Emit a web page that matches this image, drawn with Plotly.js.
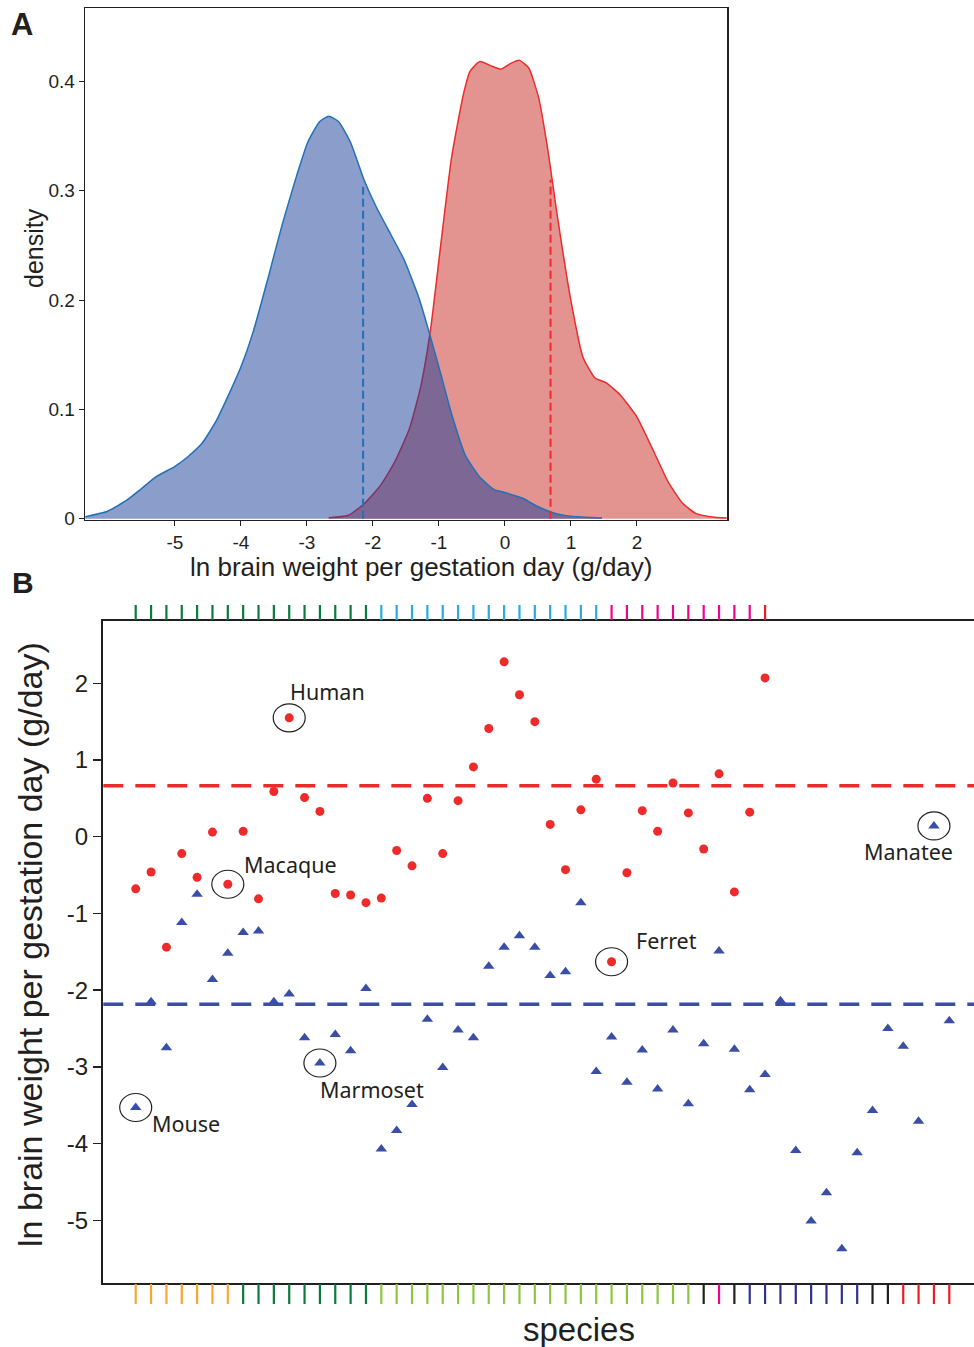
<!DOCTYPE html>
<html>
<head>
<meta charset="utf-8">
<script src="https://cdn.plot.ly/plotly-3.0.1.min.js"></script>
<style>html,body{margin:0;padding:0;background:#fff;}#chart{width:974px;height:1347px;}</style>
</head>
<body>
<div id="chart"></div>
<script>
// ---------- Panel A: density curves ----------
const blueDensX = [-6.36,-6.02,-5.73,-5.52,-5.30,-5.0,-4.80,-4.59,-4.38,-4.16,-4.0,-3.81,-3.59,-3.38,-3.16,-2.99,-2.81,-2.67,-2.52,-2.34,-2.13,-1.95,-1.74,-1.53,-1.31,-1.17,-0.98,-0.81,-0.60,-0.38,-0.17,0,0.26,0.47,0.76,1.0,1.47];
const blueDensY = [0.002,0.007,0.017,0.027,0.038,0.048,0.057,0.069,0.089,0.117,0.139,0.172,0.220,0.268,0.313,0.344,0.363,0.368,0.363,0.344,0.309,0.285,0.261,0.237,0.203,0.175,0.134,0.096,0.058,0.038,0.027,0.024,0.019,0.012,0.005,0.0024,0.0007];
const redDensX = [-2.67,-2.38,-2.13,-1.88,-1.67,-1.45,-1.28,-1.13,-0.98,-0.81,-0.63,-0.53,-0.38,-0.21,-0.06,0.08,0.22,0.36,0.51,0.65,0.79,1.0,1.18,1.36,1.54,1.75,2.0,2.25,2.47,2.68,2.89,3.18,3.36];
const redDensY = [0.001,0.003,0.014,0.031,0.052,0.082,0.120,0.172,0.247,0.330,0.388,0.409,0.418,0.414,0.411,0.416,0.419,0.412,0.385,0.337,0.278,0.199,0.148,0.129,0.124,0.113,0.093,0.062,0.034,0.015,0.005,0.0014,0.0007];
const blueMean = -2.15, blueMeanDensity = 0.305;
const redMean = 0.69, redMeanDensity = 0.31;
const densTicks = [0, 0.1, 0.2, 0.3, 0.4];
const densTickText = ['0', '0.1', '0.2', '0.3', '0.4'];
const lnTicks = [-5, -4, -3, -2, -1, 0, 1, 2];

// ---------- Panel B: per-species values ----------
const redSpecies = [1,2,3,4,5,6,7,8,9,10,11,12,13,14,15,16,17,18,19,20,21,22,23,24,25,26,27,28,29,30,31,32,33,34,35,36,37,38,39,40,41,42];
const redValues = [-0.68,-0.46,-1.44,-0.22,-0.53,0.06,-0.62,0.07,-0.81,0.59,1.55,0.51,0.33,-0.74,-0.76,-0.86,-0.80,-0.18,-0.38,0.50,-0.22,0.47,0.91,1.41,2.28,1.85,1.50,0.16,-0.43,0.35,0.75,-1.63,-0.47,0.34,0.07,0.70,0.31,-0.16,0.82,-0.72,0.32,2.07];
const blueSpecies = [1,2,3,4,5,6,7,8,9,10,11,12,13,14,15,16,17,18,19,20,21,22,23,24,25,26,27,28,29,30,31,32,33,34,35,36,37,38,39,40,41,42,43,44,45,46,47,48,49,50,51,52,53,54];
const blueValues = [-3.53,-2.15,-2.75,-1.12,-0.75,-1.86,-1.52,-1.25,-1.23,-2.15,-2.05,-2.62,-2.95,-2.58,-2.79,-1.98,-4.07,-3.83,-3.49,-2.38,-3.01,-2.52,-2.62,-1.69,-1.44,-1.29,-1.44,-1.81,-1.76,-0.86,-3.06,-2.61,-3.20,-2.78,-3.29,-2.52,-3.48,-2.70,-1.49,-2.77,-3.30,-3.10,-2.14,-4.09,-5.01,-4.64,-5.37,-4.12,-3.57,-2.50,-2.73,-3.71,0.14,-2.40];
const redMeanB = 0.665, blueMeanB = -2.185;
const lnTicksB = [-5, -4, -3, -2, -1, 0, 1, 2];

// group colour bars (species clades)
const topGroupColors = ['#0b7a3e', '#29abe2', '#ec058c', '#ed1c24'];
const topGroupSizes = [16, 15, 10, 1];
const bottomGroupColors = ['#f9a533', '#0b7a3e', '#8cc63f', '#231f20', '#ec058c', '#231f20', '#2e3192', '#231f20', '#ed1c24'];
const bottomGroupSizes = [7, 9, 21, 1, 1, 1, 8, 2, 4];

// labelled species
const labels = [
  {name: 'Human',    set: 'red',  idx: 11, dx: 38,  dy: 26},
  {name: 'Macaque',  set: 'red',  idx: 7,  dx: 63,  dy: 20},
  {name: 'Ferret',   set: 'red',  idx: 32, dx: 55,  dy: 21},
  {name: 'Mouse',    set: 'blue', idx: 1,  dx: 50,  dy: -16},
  {name: 'Marmoset', set: 'blue', idx: 13, dx: 52,  dy: -26},
  {name: 'Manatee',  set: 'blue', idx: 53, dx: -25, dy: -26}
];

const W = 974, H = 1347;
const px = v => v / W;
const py = v => 1 - v / H;
const FONT = 'Liberation Sans, Arial, sans-serif';
const INK = '#231f20';
const RED = '#ee2a2a', BLUE_PT = '#3b4ea5', BLUE_LINE = '#2270b8';

const traces = [
  {x: redDensX, y: redDensY, type: 'scatter', mode: 'lines', fill: 'tozeroy',
   fillcolor: 'rgba(199,39,33,0.5)', line: {color: RED, width: 1.5, shape: 'spline', smoothing: 0.5},
   xaxis: 'x', yaxis: 'y', hoverinfo: 'skip'},
  {x: blueDensX, y: blueDensY, type: 'scatter', mode: 'lines', fill: 'tozeroy',
   fillcolor: 'rgba(23,59,151,0.5)', line: {color: BLUE_LINE, width: 1.5, shape: 'spline', smoothing: 0.5},
   xaxis: 'x', yaxis: 'y', hoverinfo: 'skip'},
  {x: [blueMean, blueMean], y: [0, blueMeanDensity], type: 'scatter', mode: 'lines',
   line: {color: BLUE_LINE, width: 2, dash: '8px,4px'}, xaxis: 'x', yaxis: 'y'},
  {x: [redMean, redMean], y: [0, redMeanDensity], type: 'scatter', mode: 'lines',
   line: {color: RED, width: 2, dash: '8px,4px'}, xaxis: 'x', yaxis: 'y'},
  {x: redSpecies, y: redValues, type: 'scatter', mode: 'markers',
   marker: {color: RED, size: 9, symbol: 'circle'}, xaxis: 'x2', yaxis: 'y2'},
  {x: blueSpecies, y: blueValues, type: 'scatter', mode: 'markers',
   marker: {color: BLUE_PT, size: 10, symbol: 'triangle-up'}, xaxis: 'x2', yaxis: 'y2'}
];

const shapes = [];
// mean lines panel B
shapes.push({type: 'line', xref: 'x2 domain', yref: 'y2', x0: 0, x1: 1, y0: redMeanB, y1: redMeanB,
  line: {color: RED, width: 3.5, dash: '20px,12px'}, layer: 'below'});
shapes.push({type: 'line', xref: 'x2 domain', yref: 'y2', x0: 0, x1: 1, y0: blueMeanB, y1: blueMeanB,
  line: {color: '#3b4ea5', width: 3.5, dash: '20px,12px'}, layer: 'below'});

// group tick marks
function addGroupTicks(colors, sizes, y0, y1) {
  let k = 1;
  colors.forEach((c, g) => {
    for (let i = 0; i < sizes[g]; i++) {
      shapes.push({type: 'line', xref: 'x2', yref: 'paper', x0: k, x1: k, y0: y0, y1: y1,
        line: {color: c, width: 2.2}});
      k++;
    }
  });
}
addGroupTicks(topGroupColors, topGroupSizes, py(620), py(605));
addGroupTicks(bottomGroupColors, bottomGroupSizes, py(1304), py(1284));

const annotations = [
  {text: '<b>A</b>', xref: 'paper', yref: 'paper', x: px(22), y: py(24), showarrow: false,
   font: {family: FONT, size: 31, color: INK}, xanchor: 'center', yanchor: 'middle'},
  {text: '<b>B</b>', xref: 'paper', yref: 'paper', x: px(23), y: py(582), showarrow: false,
   font: {family: FONT, size: 30, color: INK}, xanchor: 'center', yanchor: 'middle'},
  // axis titles placed where the reference puts them
  {text: 'ln brain weight per gestation day (g/day)', xref: 'paper', yref: 'paper',
   x: px(421), y: py(567), showarrow: false, xanchor: 'center', yanchor: 'middle',
   font: {family: FONT, size: 26, color: INK}},
  {text: 'density', xref: 'paper', yref: 'paper', textangle: -90,
   x: px(34), y: py(248), showarrow: false, xanchor: 'center', yanchor: 'middle',
   font: {family: FONT, size: 25, color: INK}},
  {text: 'species', xref: 'paper', yref: 'paper',
   x: px(579), y: py(1329), showarrow: false, xanchor: 'center', yanchor: 'middle',
   font: {family: FONT, size: 33, color: INK}},
  {text: 'ln brain weight per gestation day (g/day)', xref: 'paper', yref: 'paper', textangle: -90,
   x: px(30), y: py(945), showarrow: false, xanchor: 'center', yanchor: 'middle',
   font: {family: FONT, size: 34, color: INK}}
];

labels.forEach(l => {
  const xs = l.set === 'red' ? redSpecies : blueSpecies;
  const ys = l.set === 'red' ? redValues : blueValues;
  const i = xs.indexOf(l.idx);
  const xv = xs[i], yv = ys[i];
  shapes.push({type: 'circle', xref: 'x2', yref: 'y2', xsizemode: 'pixel', ysizemode: 'pixel',
    xanchor: xv, yanchor: yv, x0: -16, x1: 16, y0: -14, y1: 14,
    line: {color: INK, width: 1.2}, fillcolor: 'rgba(0,0,0,0)'});
  annotations.push({text: l.name, xref: 'x2', yref: 'y2', x: xv, y: yv, xshift: l.dx, yshift: l.dy,
    showarrow: false, xanchor: 'center', yanchor: 'middle',
    font: {family: 'Noto Sans, Open Sans, sans-serif', size: 21.5, color: INK}});
});

const layout = {
  width: W, height: H,
  margin: {l: 0, r: 0, t: 0, b: 0},
  paper_bgcolor: '#ffffff', plot_bgcolor: '#ffffff',
  showlegend: false,
  font: {family: FONT, color: INK},
  xaxis: {
    domain: [px(85.1), px(727)], anchor: 'y',
    range: [-6.362, 3.364], showgrid: false, zeroline: false,
    showline: true, mirror: true, linecolor: INK, linewidth: 1.5,
    ticks: 'outside', ticklen: 5, tickwidth: 1, tickcolor: INK,
    tickvals: lnTicks, ticktext: lnTicks.map(String),
    tickfont: {family: FONT, size: 19, color: INK}
  },
  yaxis: {
    domain: [py(519.5), py(8.3)], anchor: 'x',
    range: [-0.0006, 0.4666], showgrid: false, zeroline: false,
    showline: true, mirror: true, linecolor: INK, linewidth: 1.5,
    ticks: 'outside', ticklen: 5, tickwidth: 1, tickcolor: INK,
    tickvals: densTicks, ticktext: densTickText,
    tickfont: {family: FONT, size: 19, color: INK}
  },
  xaxis2: {
    domain: [px(103.3), 1], anchor: 'y2',
    range: [-1.111, 55.61], showgrid: false, zeroline: false,
    showline: true, mirror: true, linecolor: INK, linewidth: 2.5,
    ticks: '', showticklabels: false
  },
  yaxis2: {
    domain: [py(1282.7), py(621)], anchor: 'x2',
    range: [-5.814, 2.812], showgrid: false, zeroline: false,
    showline: true, mirror: false, linecolor: INK, linewidth: 2.5,
    ticks: 'outside', ticklen: 8, tickwidth: 1.5, tickcolor: INK,
    tickvals: lnTicksB, ticktext: lnTicksB.map(String),
    tickfont: {family: FONT, size: 24, color: INK}
  },
  shapes: shapes,
  annotations: annotations
};

Plotly.newPlot('chart', traces, layout, {staticPlot: true, displayModeBar: false});
</script>
</body>
</html>
